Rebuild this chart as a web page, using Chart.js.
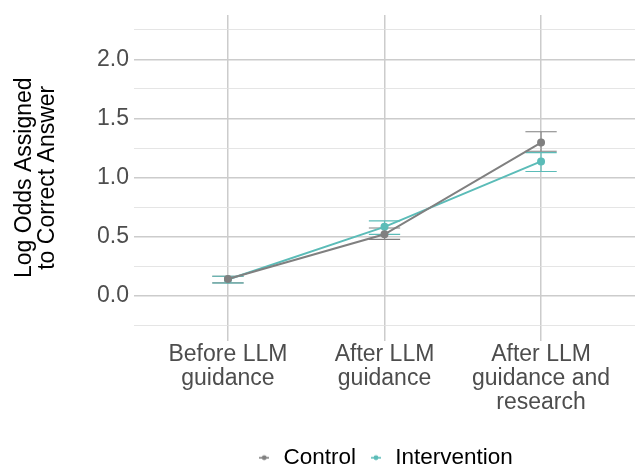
<!DOCTYPE html>
<html>
<head>
<meta charset="utf-8">
<script src="https://cdn.jsdelivr.net/npm/chart.js@4/dist/chart.umd.min.js"></script>
<style>
  html, body { margin: 0; padding: 0; background: #fff; }
  #wrap { width: 635px; height: 464px; }
</style>
</head>
<body>
<div id="wrap"><canvas id="oddsChart"></canvas></div>
<script>
// values
const stages = [["Before LLM", "guidance"], ["After LLM", "guidance"], ["After LLM", "guidance and", "research"]];
const controlMean = [0.145, 0.522, 1.297];
const controlLow = [0.112, 0.479, 1.224];
const controlHigh = [0.168, 0.576, 1.388];
const interventionMean = [0.14, 0.585, 1.138];
const interventionLow = [0.111, 0.522, 1.053];
const interventionHigh = [0.168, 0.636, 1.212];
const yTicks = [-0.25, 0, 0.25, 0.5, 0.75, 1, 1.25, 1.5, 1.75, 2, 2.25];

const greyCol = "#808080";
const tealCol = "#5bbcb8";
const font = "'Liberation Sans', Arial, sans-serif";

const toPoints = (vals) => vals.map((v, i) => ({ x: i + 1, y: v }));
const isMajor = (v) => Math.abs(v * 2 - Math.round(v * 2)) < 1e-6;

// little line+dot glyph for the legend
const legendGlyph = (col) => {
  const c = document.createElement("canvas");
  c.width = 10; c.height = 8;
  const g = c.getContext("2d");
  g.strokeStyle = col; g.lineWidth = 1.6;
  g.beginPath(); g.moveTo(0, 4); g.lineTo(10, 4); g.stroke();
  g.fillStyle = col;
  g.beginPath(); g.arc(5, 4, 2.4, 0, Math.PI * 2); g.fill();
  return c;
};

const errorBars = {
  id: "errorBars",
  beforeDatasetsDraw(chart) {
    const { ctx, scales } = chart;
    const sets = [
      { lo: controlLow, hi: controlHigh, col: greyCol },
      { lo: interventionLow, hi: interventionHigh, col: tealCol },
    ];
    ctx.save();
    sets.forEach(s => {
      ctx.strokeStyle = s.col;
      ctx.lineWidth = 1.1;
      s.lo.forEach((lo, i) => {
        const x = scales.x.getPixelForValue(i + 1);
        const x0 = scales.x.getPixelForValue(i + 0.9);
        const x1 = scales.x.getPixelForValue(i + 1.1);
        const yl = scales.y.getPixelForValue(lo);
        const yh = scales.y.getPixelForValue(s.hi[i]);
        ctx.beginPath();
        ctx.moveTo(x0, yh); ctx.lineTo(x1, yh);
        ctx.moveTo(x0, yl); ctx.lineTo(x1, yl);
        ctx.moveTo(x, yh); ctx.lineTo(x, yl);
        ctx.stroke();
      });
    });
    ctx.restore();
  }
};

const ctx = document.getElementById("oddsChart");
const chart = new Chart(ctx, {
  type: "line",
  data: {
    datasets: [
      {
        label: "Control",
        data: toPoints(controlMean),
        borderColor: greyCol,
        backgroundColor: greyCol,
        borderWidth: 2,
        pointRadius: 3,
      },
      {
        label: "Intervention",
        data: toPoints(interventionMean),
        borderColor: tealCol,
        backgroundColor: tealCol,
        borderWidth: 2,
        pointRadius: 3,
      },
    ],
  },
  options: {
    responsive: true,
    maintainAspectRatio: false,
    animation: false,
    layout: { autoPadding: false, padding: { top: 15, right: 0, left: 0, bottom: -15 } },
    plugins: {
      tooltip: { enabled: false },
      legend: {
        position: "bottom",
        fullSize: false,
        labels: {
          usePointStyle: true,
          boxWidth: 16,
          boxHeight: 10,
          color: "#000",
          font: { family: font, size: 22.5 },
          padding: 12,
          generateLabels: (ch) => ch.data.datasets.map((d, i) => ({
            text: d.label,
            pointStyle: legendGlyph(d.borderColor),
            fillStyle: d.borderColor,
            strokeStyle: d.borderColor,
            lineWidth: 0,
            datasetIndex: i,
            fontColor: "#000",
          })),
        },
      },
    },
    scales: {
      x: {
        type: "linear",
        min: 0.4,
        max: 3.6,
        afterBuildTicks: (axis) => { axis.ticks = [1, 2, 3].map(v => ({ value: v })); },
        afterFit: (axis) => { axis.height = 94; axis.paddingLeft = 0; axis.paddingRight = 0; },
        ticks: {
          callback: (v) => stages[v - 1],
          color: "#4d4d4d",
          font: { family: font, size: 23, lineHeight: 1.05 },
          padding: 2,
          maxRotation: 0,
        },
        grid: { color: "#cccccc", lineWidth: 1.5, drawTicks: false },
        border: { display: false },
      },
      y: {
        min: -0.375,
        max: 2.375,
        afterBuildTicks: (axis) => { axis.ticks = yTicks.map(v => ({ value: v })); },
        afterFit: (axis) => { axis.width = 134; axis.paddingTop = 0; axis.paddingBottom = 0; },
        ticks: {
          callback: (v) => (isMajor(v) ? v.toFixed(1) : ""),
          color: "#4d4d4d",
          font: { family: font, size: 23 },
          padding: 5,
        },
        grid: {
          color: (c) => (isMajor(c.tick.value) ? "#cccccc" : "#dedede"),
          lineWidth: (c) => (isMajor(c.tick.value) ? 1.5 : 0.8),
          drawTicks: false,
        },
        border: { display: false },
        title: {
          display: true,
          text: ["Log Odds Assigned", "to Correct Answer"],
          color: "#000",
          font: { family: font, size: 23, lineHeight: 1.0 },
          padding: { top: 13, bottom: 0 },
        },
      },
    },
  },
  plugins: [errorBars],
});
</script>
</body>
</html>
